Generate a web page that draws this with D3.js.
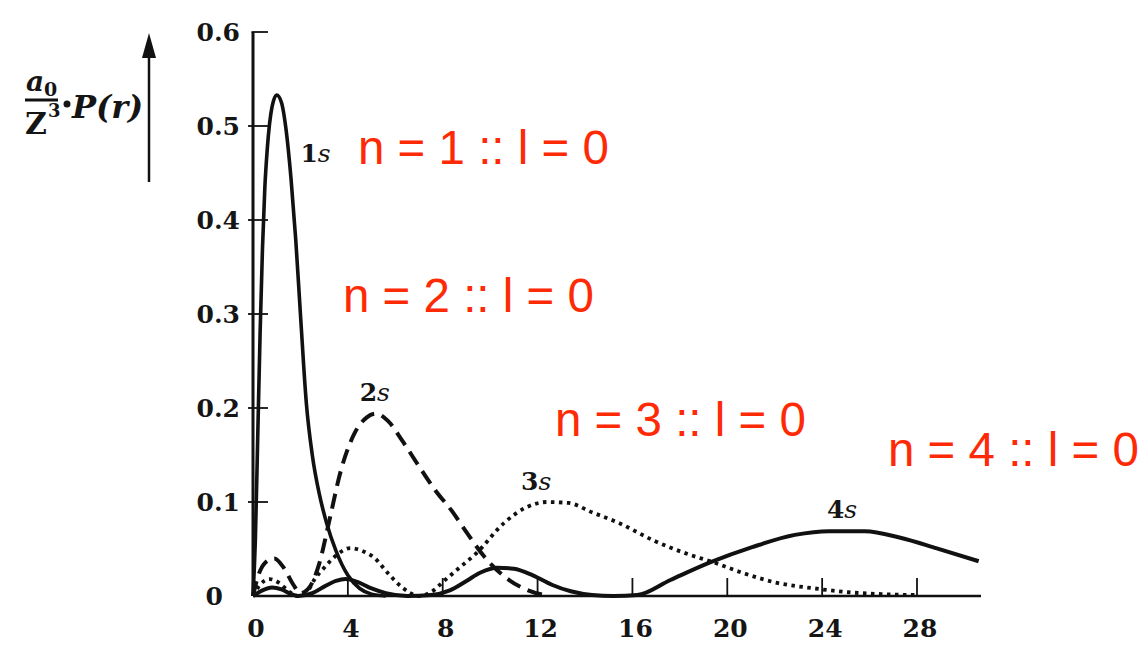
<!DOCTYPE html>
<html>
<head>
<meta charset="utf-8">
<script src="https://cdn.jsdelivr.net/npm/d3@7"></script>
<style>
  body { margin: 0; background: #fff; }
  svg { display: block; }
  .tick-label { font-family: "DejaVu Serif", serif; font-weight: bold; font-size: 25px; fill: #151515; }
  .curve-label { font-family: "DejaVu Serif", serif; font-weight: bold; font-size: 25px; fill: #151515; }
  .red-label { font-family: "Liberation Sans", Arial, sans-serif; font-size: 47.5px; fill: #fe2a05; }
</style>
</head>
<body>
<svg id="chart" width="1146" height="646"></svg>
<script>
// radial probability P(r), r in units of a0/Z
const r1s = [0, 0.1, 0.2, 0.3, 0.4, 0.5, 0.6, 0.8, 1.0, 1.2, 1.4, 1.6, 1.8, 2.0, 2.25, 2.5, 2.8, 3.1, 3.5, 4.0, 4.5, 5.0, 5.6];
const p1s = [0, 0.06, 0.17, 0.28, 0.37, 0.435, 0.475, 0.52, 0.533, 0.525, 0.495, 0.445, 0.38, 0.3, 0.205, 0.15, 0.108, 0.078, 0.048, 0.022, 0.008, 0.002, 0];

const r2s = [0, 0.2, 0.5, 0.9, 1.3, 1.7, 2.0, 2.4, 2.8, 3.2, 3.7, 4.3, 4.8, 5.2, 5.7, 6.3, 7.0, 7.7, 8.4, 9.0, 9.75, 10.8, 11.6, 12.5];
const p2s = [0, 0.02, 0.035, 0.04, 0.03, 0.012, 0.003, 0.01, 0.035, 0.078, 0.133, 0.174, 0.19, 0.194, 0.186, 0.165, 0.138, 0.112, 0.09, 0.068, 0.042, 0.017, 0.006, 0];

const r3s = [0, 0.3, 0.7, 1.1, 1.5, 1.9, 2.3, 2.6, 3.0, 3.5, 4.1, 4.6, 5.1, 5.7, 6.25, 7.0, 7.5, 8.1, 8.7, 9.4, 10.6, 11.5, 12.4, 13.3, 14.3, 15.4, 16.9, 18.4, 19.4, 20.6, 22.1, 23.7, 25.1, 26.5, 28.0];
const p3s = [0, 0.012, 0.018, 0.014, 0.005, 0, 0.005, 0.018, 0.03, 0.043, 0.051, 0.048, 0.041, 0.024, 0.01, 0, 0.004, 0.017, 0.03, 0.045, 0.078, 0.094, 0.1, 0.099, 0.089, 0.078, 0.059, 0.044, 0.036, 0.025, 0.014, 0.008, 0.004, 0.002, 0.001];

const r4s = [0, 0.4, 0.8, 1.2, 1.6, 1.9, 2.5, 3.0, 3.5, 3.9, 4.4, 5.0, 5.6, 6.5, 7.5, 8.3, 9.0, 9.6, 10.3, 11.0, 11.8, 12.6, 13.4, 14.3, 15.2, 16.2, 17.6, 19.3, 21.05, 22.85, 24.3, 25.8, 27.3, 28.8, 30.6];
const p4s = [0, 0.006, 0.009, 0.007, 0.002, 0, 0.003, 0.01, 0.016, 0.018, 0.015, 0.008, 0.003, 0, 0.001, 0.006, 0.016, 0.025, 0.03, 0.029, 0.022, 0.012, 0.005, 0.001, 0, 0.001, 0.017, 0.036, 0.052, 0.065, 0.069, 0.069, 0.062, 0.051, 0.037];

const xTicks = [0, 4, 8, 12, 16, 20, 24, 28];
const yTicks = [0, 0.1, 0.2, 0.3, 0.4, 0.5, 0.6];
const yTickLabels = ["0", "0.1", "0.2", "0.3", "0.4", "0.5", "0.6"];
const curveNums = ["1", "2", "3", "4"];
const stateLabels = ["n = 1 :: l = 0", "n = 2 :: l = 0", "n = 3 :: l = 0", "n = 4 :: l = 0"];

const svg = d3.select("#chart");
const x = d3.scaleLinear().domain([0, 28]).range([253, 917]);
const y = d3.scaleLinear().domain([0, 0.6]).range([596, 32]);
const xEnd = 30.7;

// axes drawn by hand to get the inward ticks of the book figure
svg.append("line").attr("x1", x(0)).attr("x2", x(xEnd)).attr("y1", y(0)).attr("y2", y(0)).attr("stroke", "#111").attr("stroke-width", 2.5);
svg.append("line").attr("x1", x(0)).attr("x2", x(0)).attr("y1", y(0)).attr("y2", y(0.6)).attr("stroke", "#111").attr("stroke-width", 3);

svg.selectAll(".ytick").data(yTicks.slice(1)).join("line").attr("class", "ytick")
  .attr("x1", d => d === 0.6 ? x(0) - 1.5 : x(0) - 5).attr("x2", x(0) + 15).attr("y1", d => y(d)).attr("y2", d => y(d))
  .attr("stroke", "#111").attr("stroke-width", 1.8);
svg.selectAll(".xtick").data(xTicks.slice(1)).join("line").attr("class", "xtick")
  .attr("x1", d => x(d)).attr("x2", d => x(d)).attr("y1", y(0)).attr("y2", y(0) - 18)
  .attr("stroke", "#111").attr("stroke-width", 1.8);

svg.selectAll(".ylab").data(yTicks).join("text").attr("class", "tick-label ylab")
  .attr("text-anchor", "end").attr("x", d => d === 0 ? x(0) - 30 : x(0) - 13).attr("y", d => y(d) + 9)
  .text((d, i) => yTickLabels[i]);
svg.selectAll(".xlab").data(xTicks).join("text").attr("class", "tick-label xlab")
  .attr("text-anchor", "middle").attr("x", d => x(d) + 3).attr("y", y(0) + 41)
  .text(d => d);

// y axis title a0/Z^3 · P(r) with arrow
const yt = svg.append("g").attr("font-family", "DejaVu Serif, serif").attr("fill", "#151515");
yt.append("text").attr("x", 26).attr("y", 91).attr("font-size", 28).attr("font-style", "italic").attr("font-weight", "bold").text("a");
yt.append("text").attr("x", 44).attr("y", 96).attr("font-size", 19).attr("font-weight", "bold").text("0");
yt.append("line").attr("x1", 25).attr("x2", 58).attr("y1", 100).attr("y2", 100).attr("stroke", "#111").attr("stroke-width", 2.8);
yt.append("text").attr("x", 25).attr("y", 134).attr("font-size", 30).attr("font-weight", "bold").text("Z");
yt.append("text").attr("x", 48).attr("y", 117).attr("font-size", 18).attr("font-weight", "bold").text("3");
yt.append("circle").attr("cx", 67).attr("cy", 104).attr("r", 3.5);
yt.append("text").attr("x", 72).attr("y", 118).attr("font-size", 32).attr("font-style", "italic").attr("font-weight", "bold").text("P(r)");
svg.append("line").attr("x1", 149).attr("x2", 149).attr("y1", 182).attr("y2", 55).attr("stroke", "#111").attr("stroke-width", 2.5);
svg.append("path").attr("d", "M149,33 L156,58 L142,58 Z").attr("fill", "#111");

// curves
const series = [
  {r: r1s, p: p1s, dash: null, w: 3.6},
  {r: r2s, p: p2s, dash: "15,8", w: 4},
  {r: r3s, p: p3s, dash: "3.5,4.5", w: 3.8},
  {r: r4s, p: p4s, dash: null, w: 4}
];
const line = d3.line().x(d => x(d[0])).y(d => y(d[1])).curve(d3.curveMonotoneX);
svg.selectAll(".curve").data(series).join("path").attr("class", "curve")
  .attr("d", s => line(s.r.map((v, i) => [v, s.p[i]])))
  .attr("fill", "none").attr("stroke", "#111").attr("stroke-width", s => s.w)
  .attr("stroke-dasharray", s => s.dash).attr("stroke-linejoin", "round");

// curve names, placed in data units: upright number, italic s
const namePos = [[2.0, 0.462], [4.5, 0.207], [11.3, 0.113], [24.2, 0.083]];
const names = svg.selectAll(".cname").data(curveNums).join("text").attr("class", "curve-label cname")
  .attr("x", (d, i) => x(namePos[i][0])).attr("y", (d, i) => y(namePos[i][1]));
names.append("tspan").text(d => d);
names.append("tspan").attr("font-style", "italic").attr("font-weight", "normal").text("s");

// red annotations
const redPos = [[358, 164], [343, 312], [555, 436], [888, 466]];
svg.selectAll(".red").data(stateLabels).join("text").attr("class", "red-label red")
  .attr("x", (d, i) => redPos[i][0]).attr("y", (d, i) => redPos[i][1])
  .text(d => d);
</script>
</body>
</html>
